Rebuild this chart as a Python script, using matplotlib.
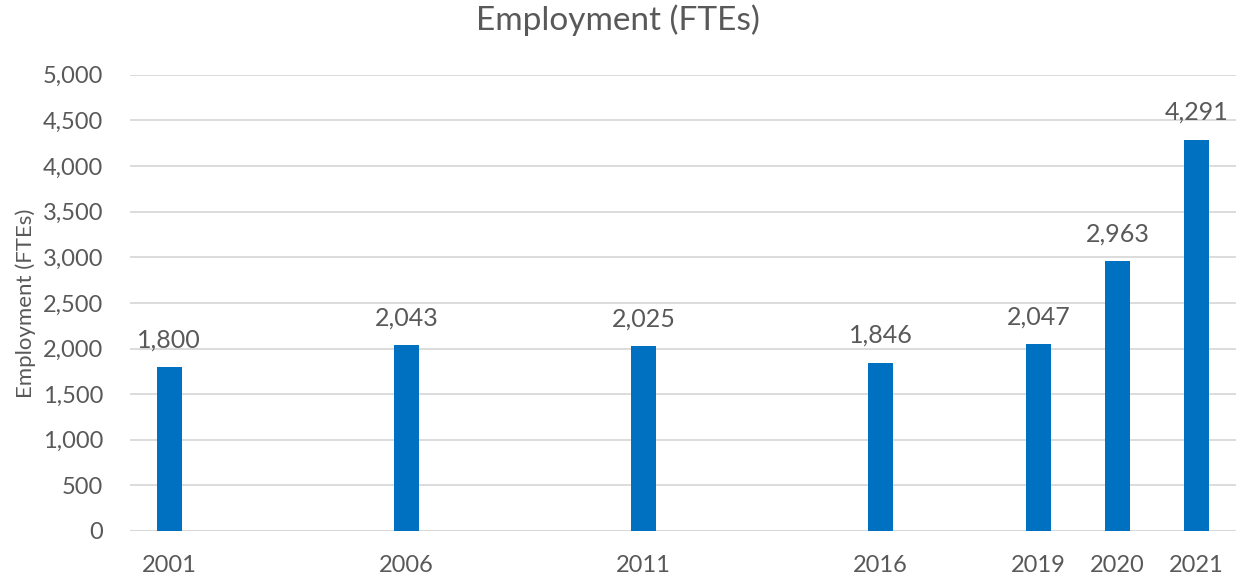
import numpy as np
import matplotlib.pyplot as plt

# Excel category axis with blank slots between the survey years
years = ['2001', '', '', '2006', '', '', '2011', '', '', '2016', '', '2019', '2020', '2021']
fte = [1800, None, None, 2043, None, None, 2025, None, None, 1846, None, 2047, 2963, 4291]

grey = '#595959'
plt.rcParams['font.family'] = ['Lato', 'DejaVu Sans']

fig = plt.figure(figsize=(12.36, 5.8), dpi=100)
ax = fig.add_axes([0.105, 0.0845, 0.895, 0.7865])

x = np.arange(len(years))
vals = np.array([np.nan if v is None else v for v in fte], dtype=float)
mask = ~np.isnan(vals)
bars = ax.bar(x[mask], vals[mask], width=0.32, color='#0070C0', zorder=3)
for xi, v in zip(x[mask], vals[mask]):
    ax.text(xi, v + 170, f'{int(v):,}', ha='center', va='bottom', fontsize=18, color=grey)

ax.set_xlim(-0.5, len(years) - 0.5)
ax.set_ylim(0, 5000)
ax.set_yticks(np.arange(0, 5001, 500))
ax.set_yticklabels([f'{v:,}' for v in range(0, 5001, 500)])
ax.set_xticks(x)
ax.set_xticklabels(years)
ax.yaxis.grid(True, color='#d9d9d9', linewidth=1.3, zorder=0)
for s in ax.spines.values():
    s.set_visible(False)
ax.axhline(0, color='#d9d9d9', linewidth=1.5, zorder=2)
ax.tick_params(length=0, labelsize=17, colors=grey)
ax.tick_params(axis='y', pad=19)
ax.tick_params(axis='x', pad=17)
ax.set_ylabel('Employment (FTEs)', fontsize=16, color=grey, labelpad=5)
fig.text(0.5, 0.965, 'Employment (FTEs)', ha='center', va='center', fontsize=24, color=grey)

fig.savefig('out.png', dpi=100)
